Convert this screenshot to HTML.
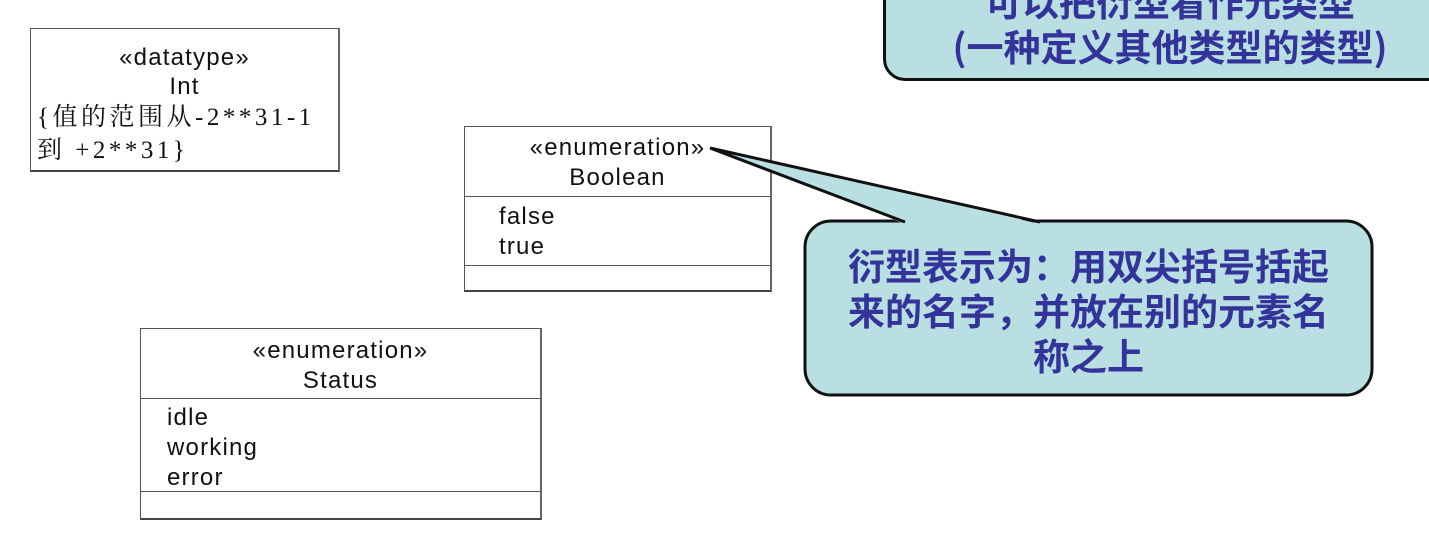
<!DOCTYPE html>
<html><head><meta charset="utf-8"><style>
body{margin:0;width:1429px;height:549px;background:#fff;position:relative;overflow:hidden;font-family:"Liberation Sans","Noto Sans CJK SC",sans-serif}
.b{position:absolute;border:1.5px solid #555;border-bottom:2.5px solid #444;border-right:2px solid #666;background:#fff;box-sizing:border-box}
.t{position:absolute;font-size:24px;letter-spacing:1.2px;color:#111;white-space:nowrap}
.sep{position:absolute;left:0;right:0;border-top:1.5px solid #555}
.c{position:absolute;color:#33339a;font-weight:bold;font-size:37px;text-align:center;font-family:"Noto Sans CJK SC",sans-serif;line-height:45px;white-space:nowrap}
</style></head><body>
<div class="b" style="left:30px;top:28px;width:310px;height:144px">
<div class="t" style="left:0;right:0;top:14px;text-align:center;line-height:29px">«datatype»<br>Int</div>
<div class="t" style="left:6px;top:72px;font-family:'Liberation Serif','Noto Serif CJK SC',serif;font-size:25px;letter-spacing:3.5px;line-height:33px">{值的范围从-2**31-1<br>到 +2**31}</div>
</div>
<div class="b" style="left:464px;top:126px;width:308px;height:166px">
<div class="t" style="left:0;right:0;top:6px;text-align:center;line-height:30px">«enumeration»<br>Boolean</div>
<div class="sep" style="top:69px"></div>
<div class="t" style="left:34px;top:75px;line-height:30px">false<br>true</div>
<div class="sep" style="top:138px"></div>
</div>
<div class="b" style="left:140px;top:328px;width:402px;height:192px">
<div class="t" style="left:0;right:0;top:7px;text-align:center;line-height:30px">«enumeration»<br>Status</div>
<div class="sep" style="top:69px"></div>
<div class="t" style="left:26px;top:74px;line-height:30px">idle<br>working<br>error</div>
<div class="sep" style="top:162px"></div>
</div>
<div style="position:absolute;left:883px;top:-40px;width:580px;height:121px;background:#b9dfe2;border:3px solid #111;border-radius:22px;box-sizing:border-box"></div>
<div class="c" style="left:890px;top:-22px;width:560px">可以把衍型看作元类型<br>(一种定义其他类型的类型)</div>
<svg style="position:absolute;left:0;top:0" width="1429" height="549">
<rect x="805" y="221" width="567" height="174" rx="26" fill="#b9dfe2" stroke="#111" stroke-width="3"/>
<polygon points="905,224 710,148 1040,224" fill="#b9dfe2"/>
<polyline points="905,222 710,148 1040,222" fill="none" stroke="#111" stroke-width="3"/>
</svg>
<div class="c" style="left:805px;top:242px;width:567px">衍型表示为：用双尖括号括起<br>来的名字，并放在别的元素名<br>称之上</div>
</body></html>
